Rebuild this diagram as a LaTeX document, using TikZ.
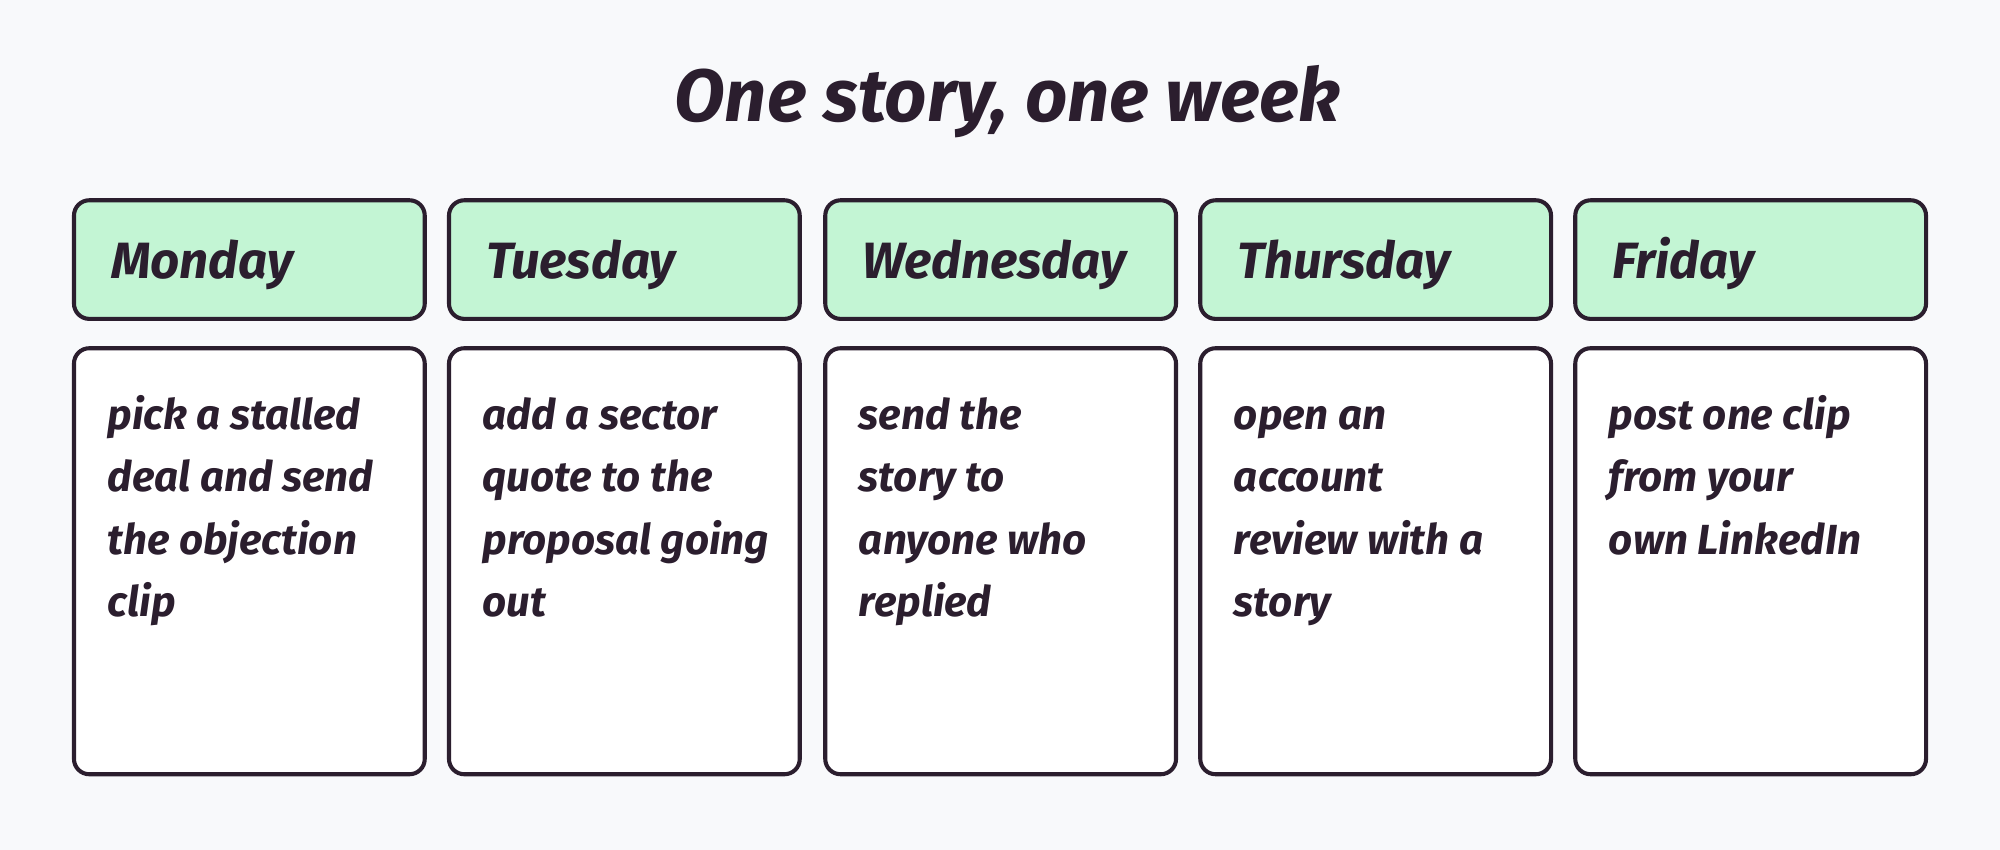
\documentclass[tikz,border=0pt]{standalone}
\usepackage{fontspec}
\setmainfont{Fira Sans}
\begin{document}
\begin{tikzpicture}[x=0.5pt,y=-0.5pt,
  ink/.style={draw=inkc,line width=1.6pt,rounded corners=6pt},
  head/.style={ink,fill=greenc},
  body/.style={ink,fill=white},
  htxt/.style={anchor=base west,font=\bfseries\itshape\fontsize{20}{24}\selectfont,text=inkc},
  btxt/.style={anchor=north west,align=left,font=\bfseries\itshape\fontsize{16.5}{24.5}\selectfont,text=inkc,inner sep=0pt}]
\definecolor{inkc}{HTML}{2B1E2E}
\definecolor{greenc}{HTML}{C3F5D4}
\definecolor{bgc}{HTML}{F8F9FB}
\fill[bgc] (0,0) rectangle (1568,666);
\useasboundingbox (0,0) rectangle (1568,666);
\node[font=\bfseries\itshape\fontsize{29}{34}\selectfont,text=inkc] (title) at (790,80) {One story, one week};
\foreach \i/\x/\d/\t in {
 1/58/Monday/{pick a stalled\\deal and send\\the objection\\clip},
 2/352/Tuesday/{add a sector\\quote to the\\proposal going\\out},
 3/647/Wednesday/{send the\\story to\\anyone who\\replied},
 4/941/Thursday/{open an\\account\\review with a\\story},
 5/1235/Friday/{post one clip\\from your\\own LinkedIn}}{
  \draw[head] (\x,157) rectangle ++(275,93);
  \node[htxt] (h\i) at (\x+22,218) {\d};
  \draw[body] (\x,273) rectangle ++(275,334);
  \node[btxt] (b\i) at (\x+26,302) {\strut\t};
}
\end{tikzpicture}
\end{document}
